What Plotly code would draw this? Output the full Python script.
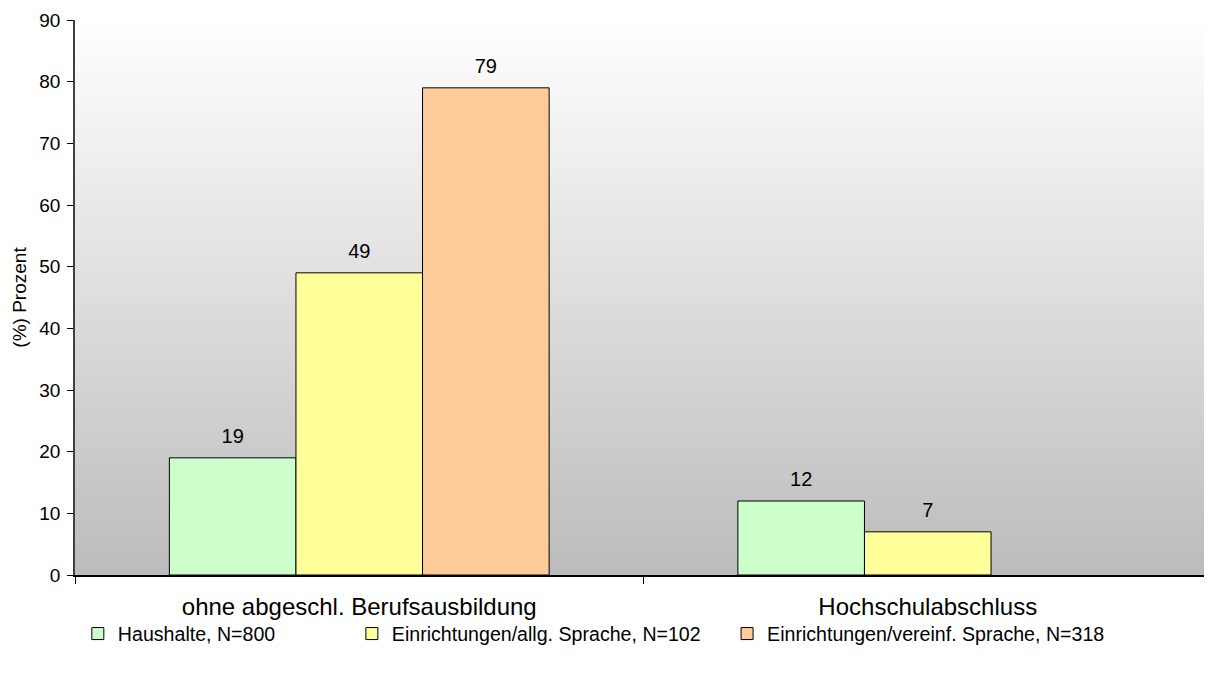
import plotly.graph_objects as go

CATEGORIES = ["ohne abgeschl. Berufsausbildung", "Hochschulabschluss"]
SERIES = [
    "Haushalte, N=800",
    "Einrichtungen/allg. Sprache, N=102",
    "Einrichtungen/vereinf. Sprache, N=318",
]
HAUSHALTE = [19, 12]
ALLG_SPRACHE = [49, 7]
VEREINF_SPRACHE = [79, None]
Y_TICKS = list(range(0, 100, 10))

VALUES = [HAUSHALTE, ALLG_SPRACHE, VEREINF_SPRACHE]
COLORS = ["#CCFFCC", "#FFFF99", "#FFCC99"]
FONT = "Liberation Sans, Arial, sans-serif"
GAP = 0.332

# separate legends so each entry sits where the original puts it
LEGEND_X = [0.0025, 0.2435, 0.5735]

fig = go.Figure()
for i, (name, vals) in enumerate(zip(SERIES, VALUES)):
    fig.add_trace(
        go.Bar(
            x=CATEGORIES,
            y=vals,
            name=name,
            offsetgroup=str(i),
            marker=dict(color=COLORS[i], line=dict(color="#000000", width=1)),
            legend="legend" if i == 0 else f"legend{i + 1}",
            hoverinfo="skip",
        )
    )

# value labels: grouped scatter text, invisible marker sets the distance above the bar
for i, vals in enumerate(VALUES):
    fig.add_trace(
        go.Scatter(
            x=CATEGORIES,
            y=vals,
            mode="markers+text",
            offsetgroup=str(i),
            text=[v if v is not None else "" for v in vals],
            textposition="top center",
            textfont=dict(size=20, color="#000000", family=FONT),
            marker=dict(size=14, opacity=0),
            cliponaxis=False,
            showlegend=False,
            hoverinfo="skip",
        )
    )

# vertical white-to-grey gradient behind the bars
n_steps = 111
for k in range(n_steps):
    t = (k + 0.5) / n_steps
    g = int(round(255 - 67 * t))
    fig.add_shape(
        type="rect",
        xref="paper",
        yref="paper",
        x0=0,
        x1=1,
        y0=1 - (k + 1) / n_steps,
        y1=1 - k / n_steps + 0.002,
        fillcolor=f"rgb({g},{g},{g})",
        line=dict(width=0),
        layer="below",
    )

legend_style = dict(
    orientation="h",
    x=0,
    y=-0.106,
    xanchor="left",
    yanchor="middle",
    font=dict(size=19.6, color="#000000", family=FONT),
    bgcolor="rgba(0,0,0,0)",
)

# page body has an 8px margin, so the figure is 8px smaller than the window
fig.update_layout(
    width=1204,
    height=665,
    margin=dict(l=67, r=0, t=12, b=98),
    paper_bgcolor="#ffffff",
    plot_bgcolor="rgba(0,0,0,0)",
    font=dict(family=FONT, color="#000000"),
    barmode="group",
    bargap=GAP,
    bargroupgap=0,
    scattermode="group",
    scattergap=GAP,
    showlegend=True,
    legend={**legend_style, "x": LEGEND_X[0]},
    legend2={**legend_style, "x": LEGEND_X[1]},
    legend3={**legend_style, "x": LEGEND_X[2]},
    xaxis=dict(
        showline=True,
        linecolor="#000000",
        linewidth=1.5,
        ticks="outside",
        tickson="boundaries",
        ticklen=7,
        tickcolor="#000000",
        tickfont=dict(size=24, color="#000000"),
        ticklabelstandoff=9,
        showgrid=False,
        zeroline=False,
    ),
    yaxis=dict(
        range=[0, 90],
        tickvals=Y_TICKS,
        showline=True,
        linecolor="#404040",
        linewidth=1.5,
        ticks="outside",
        ticklen=6,
        tickcolor="#000000",
        tickfont=dict(size=19, color="#000000"),
        ticklabelstandoff=3,
        showgrid=False,
        zeroline=False,
        title=dict(text="(%) Prozent", font=dict(size=19, color="#000000"), standoff=8),
    ),
)

fig.write_html("out.html")
